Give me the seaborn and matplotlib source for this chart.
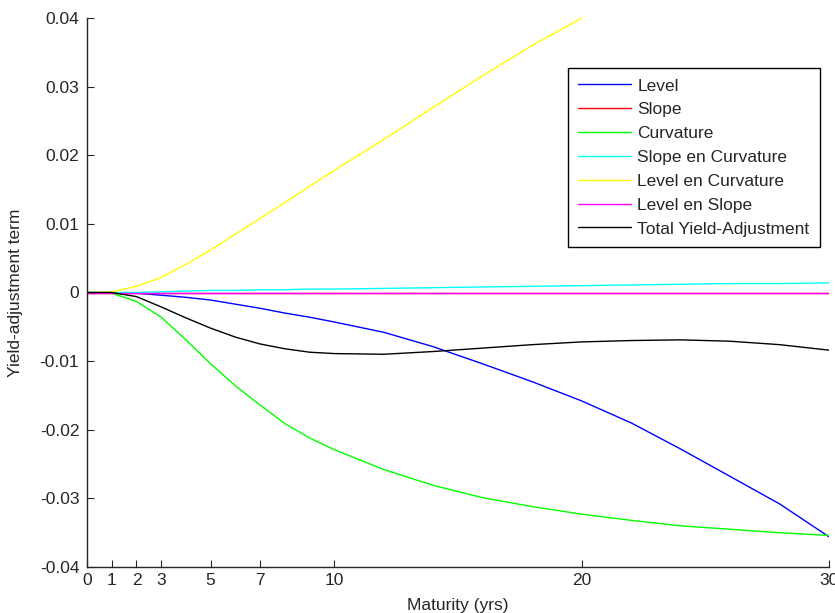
import pandas as pd
import matplotlib
matplotlib.use("Agg")
import matplotlib.pyplot as plt
import seaborn as sns

maturity = [0, 1, 2, 3, 4, 5, 6, 7, 8, 9, 10, 12, 14, 16, 18, 20, 22, 24, 26, 28, 30]

level = [0, 0, -0.0001, -0.0004, -0.0007, -0.0011, -0.0017, -0.0023, -0.0030, -0.0036,
         -0.0043, -0.0058, -0.0079, -0.0104, -0.0130, -0.0158, -0.0190, -0.0228,
         -0.0268, -0.0308, -0.0356]
slope = [0.0] * len(maturity)
curvature = [0, -0.0001, -0.0013, -0.0036, -0.0069, -0.0104, -0.0136, -0.0164, -0.0191,
             -0.0212, -0.0229, -0.0258, -0.0281, -0.0299, -0.0312, -0.0323, -0.0332,
             -0.0340, -0.0345, -0.0350, -0.0354]
slope_curv = [0, 0, 0, 0.0001, 0.0002, 0.0003, 0.0003, 0.0004, 0.0004, 0.0005, 0.0005,
              0.0006, 0.0007, 0.0008, 0.0009, 0.0010, 0.0011, 0.0012, 0.0013, 0.0013, 0.0014]
# level-curvature leaves the plot at 0.04 (20 yrs)
level_curv_mat = [0, 1, 2, 3, 4, 5, 6, 7, 8, 9, 10, 12, 14, 16, 18, 20]
level_curv = [0, 0.0001, 0.0009, 0.0022, 0.0041, 0.0062, 0.0085, 0.0108, 0.0131, 0.0155,
              0.0178, 0.0223, 0.0270, 0.0316, 0.0360, 0.0400]
level_slope = [0.0] * len(maturity)
total = [0, 0, -0.0006, -0.0021, -0.0037, -0.0052, -0.0065, -0.0075, -0.0082, -0.0087,
         -0.0089, -0.0090, -0.0086, -0.0081, -0.0076, -0.0072, -0.0070, -0.0069,
         -0.0071, -0.0076, -0.0084]

names = ["Level", "Slope", "Curvature", "Slope en Curvature", "Level en Curvature",
         "Level en Slope", "Total Yield-Adjustment"]
colors = ["#0000ff", "#ff0000", "#00ff00", "#00ffff", "#ffff00", "#ff00ff", "#000000"]

xticks = [0, 1, 2, 3, 5, 7, 10, 20, 30]
yticks = [-0.04, -0.03, -0.02, -0.01, 0, 0.01, 0.02, 0.03, 0.04]
yticklabels = ["-0.04", "-0.03", "-0.02", "-0.01", "0", "0.01", "0.02", "0.03", "0.04"]

series = [(maturity, level), (maturity, slope), (maturity, curvature),
          (maturity, slope_curv), (level_curv_mat, level_curv),
          (maturity, level_slope), (maturity, total)]
frames = []
for name, (m, v) in zip(names, series):
    frames.append(pd.DataFrame({"Maturity": m, "Value": v, "Term": name}))
df = pd.concat(frames, ignore_index=True)

sns.set_style("ticks")
plt.rcParams["font.family"] = ["Liberation Sans", "DejaVu Sans"]

ink = "#262626"
fig = plt.figure(figsize=(8.35, 6.13), dpi=100)
ax = fig.add_axes([87 / 835, 1 - 567 / 613, (829 - 87) / 835, (567 - 18) / 613])

sns.lineplot(data=df, x="Maturity", y="Value", hue="Term", hue_order=names,
             palette=dict(zip(names, colors)), linewidth=1.0, ax=ax, sort=False,
             estimator=None)

ax.set_xlim(0, 30)
ax.set_ylim(-0.04, 0.04)
ax.set_xticks(xticks)
ax.set_xticklabels([str(t) for t in xticks])
ax.set_yticks(yticks)
ax.set_yticklabels(yticklabels)
ax.tick_params(direction="in", length=5, width=0.8, colors=ink, labelsize=12.5)
ax.tick_params(axis="y", pad=5.5)
ax.tick_params(axis="x", pad=4.5)
for s in ["top", "right"]:
    ax.spines[s].set_visible(False)
for s in ["left", "bottom"]:
    ax.spines[s].set_color(ink)
    ax.spines[s].set_linewidth(1.0)

ax.set_xlabel("Maturity (yrs)", fontsize=12.5, color=ink, labelpad=7)
ax.set_ylabel("Yield-adjustment term", fontsize=12.5, color=ink, labelpad=12)

handles, labels = ax.get_legend_handles_labels()
leg = ax.legend(handles, labels, loc="upper right", bbox_to_anchor=(820 / 835, 1 - 68 / 613),
                bbox_transform=fig.transFigure, borderaxespad=0, fontsize=12.5,
                frameon=True, fancybox=False, framealpha=1, edgecolor="black",
                handlelength=3.0, handletextpad=0.4, labelspacing=0.5,
                borderpad=0.6)
leg.get_frame().set_linewidth(1.0)
for t in leg.get_texts():
    t.set_color(ink)

fig.savefig("out.png", dpi=100)
